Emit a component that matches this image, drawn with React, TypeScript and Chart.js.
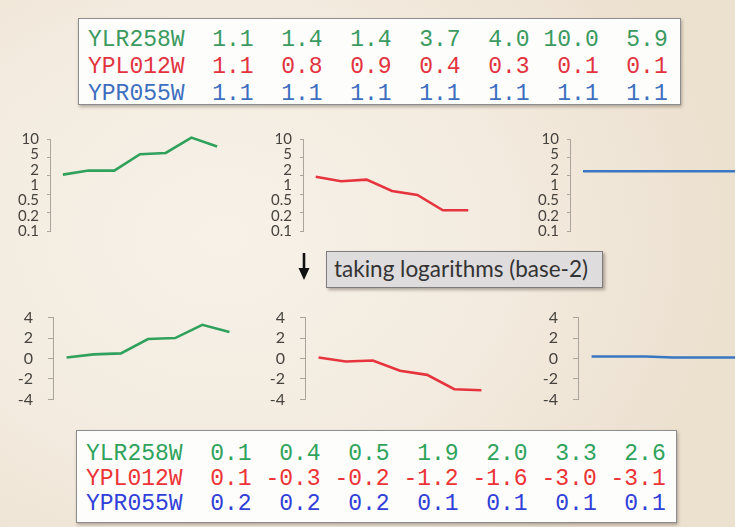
import React, { useEffect, useRef } from "react";
import { Chart, registerables } from "chart.js";

Chart.register(...registerables);

// ---------- data ----------
const conditions = ["c1", "c2", "c3", "c4", "c5", "c6", "c7"];
const geneNames = ["YLR258W", "YPL012W", "YPR055W"];
const ylr258wRaw = [1.1, 1.4, 1.4, 3.7, 4.0, 10.0, 5.9];
const ypl012wRaw = [1.1, 0.8, 0.9, 0.4, 0.3, 0.1, 0.1];
const ypr055wRaw = [1.1, 1.1, 1.1, 1.1, 1.1, 1.1, 1.1];
const ylr258wLog2 = [0.1, 0.4, 0.5, 1.9, 2.0, 3.3, 2.6];
const ypl012wLog2 = [0.1, -0.3, -0.2, -1.2, -1.6, -3.0, -3.1];
const ypr055wLog2 = [0.2, 0.2, 0.2, 0.1, 0.1, 0.1, 0.1];
const rawTickLabels = ["10", "5", "2", "1", "0.5", "0.2", "0.1"];
const logTickStep = 2;
const stepLabel = "taking logarithms (base-2)";

// ---------- styles ----------
const lineGreen = "#2fa15c";
const lineRed = "#e6343f";
const lineBlue = "#3a77c2";
const axisColor = "#a9a49c";
const tickFontTop = { family: "Lato", size: 15 };
const tickFontBottom = { family: "Lato", size: 16 };
const tickColor = "#46433f";

type MiniProps = {
  values: number[];
  color: string;
  kind: "raw" | "log";
  axisX: number;
  top: number;
  bottom: number;
  areaW: number;
  yMin: number;
  yMax: number;
};

const LEFT_W = 42;
const PAD_T = 12;
const PAD_B = 12;
const PAD_R = 8;

function MiniChart(p: MiniProps) {
  const ref = useRef<HTMLCanvasElement | null>(null);
  const width = LEFT_W + p.areaW + PAD_R;
  const height = p.bottom - p.top + PAD_T + PAD_B;

  useEffect(() => {
    if (!ref.current) return;
    let scales: any;
    if (p.kind === "raw") {
      scales = {
        x: { type: "category", labels: conditions, offset: true, display: false },
        y: { type: "logarithmic", min: p.yMin, max: p.yMax, display: false },
        yTicks: {
          type: "linear",
          position: "left",
          weight: 0,
          min: 0,
          max: 5,
          ticks: { display: false, stepSize: 1 },
          grid: { drawOnChartArea: false, drawTicks: true, tickLength: 3, color: axisColor },
          border: { display: true, color: axisColor, width: 1 },
          afterFit: (s: any) => {
            s.width = 4;
          },
        },
        yLabels: {
          type: "linear",
          position: "left",
          weight: 1,
          min: 0,
          max: rawTickLabels.length - 1,
          ticks: {
            stepSize: 1,
            autoSkip: false,
            padding: 7,
            color: tickColor,
            font: tickFontTop,
            callback: (v: any) => rawTickLabels[rawTickLabels.length - 1 - Math.round(Number(v))],
          },
          grid: { display: false, drawTicks: false },
          border: { display: false },
          afterFit: (s: any) => {
            s.width = LEFT_W - 4;
          },
        },
      };
    } else {
      scales = {
        x: { type: "category", labels: conditions, offset: true, display: false },
        y: {
          type: "linear",
          position: "left",
          min: p.yMin,
          max: p.yMax,
          ticks: { stepSize: logTickStep, padding: 15, color: tickColor, font: tickFontBottom, autoSkip: false },
          grid: { drawOnChartArea: false, drawTicks: true, tickLength: 5, color: axisColor },
          border: { display: true, color: axisColor, width: 1 },
          afterFit: (s: any) => {
            s.width = LEFT_W;
          },
        },
      };
    }
    const chart = new Chart(ref.current, {
      type: "line",
      data: {
        labels: conditions,
        datasets: [
          {
            data: p.values,
            borderColor: p.color,
            borderWidth: 2.6,
            pointRadius: 0,
            tension: 0,
            fill: false,
            clip: false as any,
            yAxisID: "y",
          },
        ],
      },
      options: {
        responsive: false,
        animation: false,
        devicePixelRatio: 1,
        layout: { padding: { left: 0, top: PAD_T, bottom: PAD_B, right: PAD_R } },
        plugins: { legend: { display: false }, tooltip: { enabled: false } },
        events: [],
        scales,
      } as any,
    });
    return () => chart.destroy();
  }, []);

  return (
    <canvas
      ref={ref}
      width={width}
      height={height}
      style={{
        position: "absolute",
        left: p.axisX - LEFT_W,
        top: p.top - PAD_T,
        width,
        height,
      }}
    />
  );
}

function fmtRow(name: string, vals: number[]) {
  return name + vals.map((v) => v.toFixed(1).padStart(5)).join("");
}

type TableProps = {
  left: number;
  top: number;
  width: number;
  height: number;
  rowTops: number[];
  textLeft: number;
  rows: { name: string; vals: number[]; color: string }[];
};

function DataTable(t: TableProps) {
  return (
    <div
      style={{
        position: "absolute",
        left: t.left,
        top: t.top,
        width: t.width,
        height: t.height,
        boxSizing: "border-box",
        background: "#fdfdfc",
        border: "1px solid #8c8c8c",
        boxShadow: "1px 2px 3px rgba(60,50,40,0.35)",
      }}
    >
      {t.rows.map((r, i) => (
        <div
          key={r.name}
          style={{
            position: "absolute",
            left: t.textLeft,
            top: t.rowTops[i],
            whiteSpace: "pre",
            fontFamily: "'Liberation Mono', monospace",
            fontSize: 23,
            lineHeight: "26px",
            color: r.color,
          }}
        >
          {fmtRow(r.name, r.vals)}
        </div>
      ))}
    </div>
  );
}

export default function App() {
  return (
    <div
      style={{
        position: "absolute",
        left: 0,
        top: 0,
        width: 735,
        height: 527,
        overflow: "hidden",
        background:
          "radial-gradient(ellipse 70% 80% at 30% 45%, #f7f1e8 0%, #f3ebdf 55%, #ece0cf 100%)",
      }}
    >
      <DataTable
        left={78}
        top={18}
        width={603}
        height={87}
        textLeft={9}
        rowTops={[8, 35, 62]}
        rows={[
          { name: geneNames[0], vals: ylr258wRaw, color: "#3b9a5f" },
          { name: geneNames[1], vals: ypl012wRaw, color: "#e2333f" },
          { name: geneNames[2], vals: ypr055wRaw, color: "#3d6fbf" },
        ]}
      />

      <MiniChart values={ylr258wRaw} color={lineGreen} kind="raw" axisX={50} top={135} bottom={235} areaW={180} yMin={0.0383} yMax={9.18} />
      <MiniChart values={ypl012wRaw} color={lineRed} kind="raw" axisX={303} top={135} bottom={235} areaW={178} yMin={0.0227} yMax={16.5} />
      <MiniChart values={ypr055wRaw} color={lineBlue} kind="raw" axisX={570} top={135} bottom={235} areaW={182} yMin={0.03125} yMax={7.49} />

      <svg
        width={12}
        height={30}
        style={{ position: "absolute", left: 298, top: 252 }}
        viewBox="0 0 12 30"
      >
        <line x1={6} y1={1} x2={6} y2={19} stroke="#111" strokeWidth={2.6} />
        <polygon points="0.5,16 11.5,16 6,28" fill="#111" />
      </svg>
      <div
        style={{
          position: "absolute",
          left: 326,
          top: 251,
          width: 277,
          height: 37,
          boxSizing: "border-box",
          background: "#dedcdd",
          border: "1px solid #7d7b7b",
          boxShadow: "2px 2px 3px rgba(40,30,20,0.35)",
          fontFamily: "Lato, sans-serif",
          fontSize: 22.5,
          lineHeight: "34px",
          paddingLeft: 7,
          paddingTop: 0,
          color: "#333",
          whiteSpace: "nowrap",
        }}
      >
        {stepLabel}
      </div>

      <MiniChart values={ylr258wLog2} color={lineGreen} kind="log" axisX={53} top={305} bottom={412} areaW={190} yMin={-4} yMax={4} />
      <MiniChart values={ypl012wLog2} color={lineRed} kind="log" axisX={305} top={305} bottom={412} areaW={190} yMin={-4} yMax={4} />
      <MiniChart values={ypr055wLog2} color={lineBlue} kind="log" axisX={578} top={305} bottom={412} areaW={190} yMin={-4} yMax={4} />

      <DataTable
        left={76}
        top={430}
        width={601}
        height={93}
        textLeft={9}
        rowTops={[10, 35, 60]}
        rows={[
          { name: geneNames[0], vals: ylr258wLog2, color: "#2fa35b" },
          { name: geneNames[1], vals: ypl012wLog2, color: "#ec3436" },
          { name: geneNames[2], vals: ypr055wLog2, color: "#3040d8" },
        ]}
      />
    </div>
  );
}
